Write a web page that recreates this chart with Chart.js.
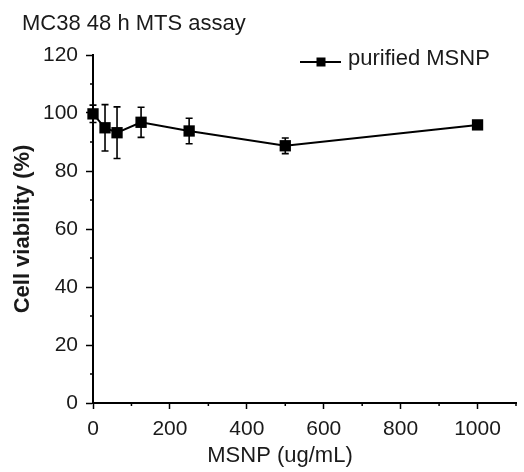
<!DOCTYPE html>
<html>
<head>
<meta charset="utf-8">
<script src="https://cdn.jsdelivr.net/npm/chart.js@4"></script>
<style>
  html, body { margin: 0; padding: 0; background: #fff; }
  #myChart { display: block; }
</style>
</head>
<body>
<canvas id="myChart" width="524" height="472"></canvas>
<script>
// MSNP doses (ug/mL) and viability readings
const doses = [0, 31.25, 62.5, 125, 250, 500, 1000];
const viability = [99.7, 94.9, 93.2, 96.8, 93.8, 88.7, 95.9];
const viabilitySd = [3, 8, 8.9, 5.2, 4.4, 2.7, 1];

// axis ticks
const xTicks = [0, 200, 400, 600, 800, 1000];
const xMinorTicks = [100, 300, 500, 700, 900, 1100];
const yTicks = [0, 20, 40, 60, 80, 100, 120];
const yMinorTicks = [10, 30, 50, 70, 90, 110];

const chartTitle = 'MC38 48 h MTS assay';
const seriesName = 'purified MSNP';
const xTitle = 'MSNP (ug/mL)';
const yTitle = 'Cell viability (%)';

Chart.defaults.font.family = "'Liberation Sans', Arial, sans-serif";
Chart.defaults.color = '#1a1a1a';

// error bars, drawn through the scales
const errorBars = {
  id: 'errorBars',
  beforeDatasetsDraw(chart) {
    const ctx = chart.ctx;
    const x = chart.scales.x, y = chart.scales.y;
    ctx.save();
    ctx.strokeStyle = '#000';
    ctx.lineWidth = 1.6;
    doses.forEach((d, i) => {
      const px = x.getPixelForValue(d);
      const top = y.getPixelForValue(viability[i] + viabilitySd[i]);
      const bot = y.getPixelForValue(viability[i] - viabilitySd[i]);
      ctx.beginPath();
      ctx.moveTo(px, top); ctx.lineTo(px, bot);
      ctx.moveTo(px - 3.5, top); ctx.lineTo(px + 3.5, top);
      ctx.moveTo(px - 3.5, bot); ctx.lineTo(px + 3.5, bot);
      ctx.stroke();
    });
    ctx.restore();
  }
};

// minor ticks, title text, x title and legend
const extras = {
  id: 'extras',
  afterDraw(chart) {
    const ctx = chart.ctx;
    const x = chart.scales.x, y = chart.scales.y;
    const area = chart.chartArea;
    ctx.save();
    ctx.strokeStyle = '#000';
    ctx.lineWidth = 1.5;
    ctx.beginPath();
    xMinorTicks.forEach(v => {
      const px = x.getPixelForValue(v);
      ctx.moveTo(px, area.bottom); ctx.lineTo(px, area.bottom + 3);
    });
    yMinorTicks.forEach(v => {
      const py = y.getPixelForValue(v);
      ctx.moveTo(area.left, py); ctx.lineTo(area.left - 3, py);
    });
    ctx.stroke();

    ctx.fillStyle = '#1a1a1a';
    ctx.font = "22px 'Liberation Sans', Arial, sans-serif";
    ctx.textBaseline = 'middle';
    ctx.textAlign = 'left';
    ctx.fillText(chartTitle, 22, 24);

    ctx.textAlign = 'center';
    ctx.fillText(xTitle, 280, 456);

    // legend
    ctx.textAlign = 'left';
    ctx.lineWidth = 2;
    ctx.beginPath();
    ctx.moveTo(300, 62); ctx.lineTo(341, 62);
    ctx.stroke();
    ctx.fillStyle = '#000';
    ctx.fillRect(316.5, 57.5, 9, 9);
    ctx.fillStyle = '#1a1a1a';
    ctx.fillText(seriesName, 348, 59);
    ctx.restore();
  }
};

const ctx = document.getElementById('myChart').getContext('2d');
const myChart = new Chart(ctx, {
  type: 'line',
  data: {
    datasets: [{
      label: seriesName,
      data: doses.map((d, i) => ({x: d, y: viability[i]})),
      borderColor: '#000',
      backgroundColor: '#000',
      borderWidth: 2,
      pointStyle: 'rect',
      pointRadius: 8,
      pointHoverRadius: 8,
      pointBackgroundColor: '#000',
      pointBorderWidth: 0,
      tension: 0,
      clip: false
    }]
  },
  options: {
    responsive: false,
    animation: false,
    events: [],
    layout: { padding: { top: 55, right: 1, left: 0, bottom: 0 } },
    plugins: {
      legend: { display: false },
      title: { display: false },
      tooltip: { enabled: false }
    },
    scales: {
      x: {
        type: 'linear',
        min: 0,
        max: 1100,
        afterBuildTicks: s => { s.ticks = xTicks.map(v => ({value: v})); },
        afterFit: s => { s.height = 69; },
        border: { color: '#000', width: 2 },
        grid: { drawOnChartArea: false, tickLength: 6, tickColor: '#000', tickWidth: 1.5 },
        ticks: { font: { size: 21 }, padding: 8, maxRotation: 0, callback: v => String(v) },
        title: { display: false }
      },
      y: {
        type: 'linear',
        min: 0,
        max: 120,
        afterBuildTicks: s => { s.ticks = yTicks.map(v => ({value: v})); },
        afterFit: s => { s.width = 93; },
        border: { color: '#000', width: 2 },
        grid: { drawOnChartArea: false, tickLength: 7, tickColor: '#000', tickWidth: 1.5 },
        ticks: { font: { size: 21 }, padding: 8, callback: v => String(v) },
        title: { display: true, text: yTitle, font: { size: 22, weight: 'bold' }, padding: { top: 10, bottom: 0 } }
      }
    }
  },
  plugins: [errorBars, extras]
});
</script>
</body>
</html>
